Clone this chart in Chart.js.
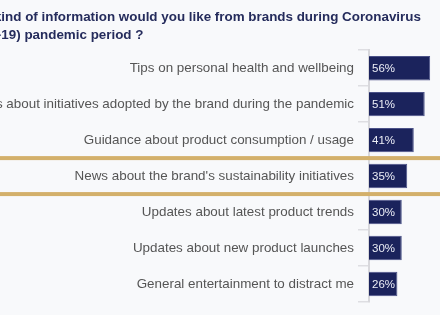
<!DOCTYPE html>
<html>
<head>
<meta charset="utf-8">
<script src="https://cdn.jsdelivr.net/npm/chart.js@4"></script>
<style>
  html, body { margin: 0; padding: 0; background: #f8f9fb; overflow: hidden; }
  #wrap { position: absolute; left: -50px; top: 0; width: 490px; height: 315px; }
</style>
</head>
<body>
<div id="wrap"><canvas id="myChart" width="490" height="315"></canvas></div>
<script>
// data
var categories = [
    'Tips on personal health and wellbeing',
    'News about initiatives adopted by the brand during the pandemic',
    'Guidance about product consumption / usage',
    "News about the brand's sustainability initiatives",
    'Updates about latest product trends',
    'Updates about new product launches',
    'General entertainment to distract me'
];
var shares = [56, 51, 41, 35, 30, 30, 26];
var highlightIndex = 3;
var titleLines = [
    'Which kind of information would you like from brands during Coronavirus',
    '(COVID-19) pandemic period ?'
];

var barLabels = {
    id: 'barLabels',
    afterDatasetsDraw: function(chart){
        var ctx = chart.ctx;
        var meta = chart.getDatasetMeta(0);
        ctx.save();
        ctx.font = '11.5px "Liberation Sans", Arial, sans-serif';
        ctx.fillStyle = '#eceef6';
        ctx.textAlign = 'left';
        ctx.textBaseline = 'middle';
        meta.data.forEach(function(bar, i){
            ctx.fillText(shares[i] + '%', bar.base + 3, bar.y + 0.5);
        });
        ctx.restore();
    }
};

var goldLines = {
    id: 'goldLines',
    afterDraw: function(chart){
        var y = chart.scales.y;
        var half = (y.getPixelForValue(1) - y.getPixelForValue(0)) / 2;
        var c = y.getPixelForValue(highlightIndex);
        var ctx = chart.ctx;
        ctx.save();
        ctx.fillStyle = '#d3b06b';
        ctx.fillRect(0, c - half - 2, chart.width, 4);
        ctx.fillRect(0, c + half - 2, chart.width, 4);
        ctx.restore();
    }
};

var ctx = document.getElementById('myChart').getContext('2d');
var myBarChart = new Chart(ctx, {
    type: 'bar',
    data: {
        labels: categories,
        datasets: [{
            data: shares,
            backgroundColor: '#1b235c',
            borderColor: '#4b5288',
            borderWidth: 1,
            categoryPercentage: 1,
            barPercentage: 0.68
        }]
    },
    options: {
        indexAxis: 'y',
        responsive: false,
        devicePixelRatio: 1,
        animation: false,
        layout: { padding: { left: 0, right: 0, top: 0, bottom: 13 } },
        plugins: {
            legend: { display: false },
            tooltip: { enabled: false },
            title: {
                display: true,
                text: titleLines,
                align: 'start',
                color: '#252c5c',
                font: { family: '"Liberation Sans", Arial, sans-serif', size: 13.4, weight: 'bold', lineHeight: 1.35 },
                padding: { top: 8, bottom: 6 }
            }
        },
        scales: {
            x: { display: false, min: 0, max: 65 },
            y: {
                afterFit: function(scale){ scale.width = 419; },
                grid: { drawOnChartArea: false, tickLength: 11, color: '#dedee2', lineWidth: 1.5 },
                border: { color: '#d8d8dc', width: 2 },
                ticks: {
                    color: '#555555',
                    padding: 4,
                    font: { family: '"Liberation Sans", Arial, sans-serif', size: 13.4 }
                }
            }
        }
    },
    plugins: [barLabels, goldLines]
});
</script>
</body>
</html>
